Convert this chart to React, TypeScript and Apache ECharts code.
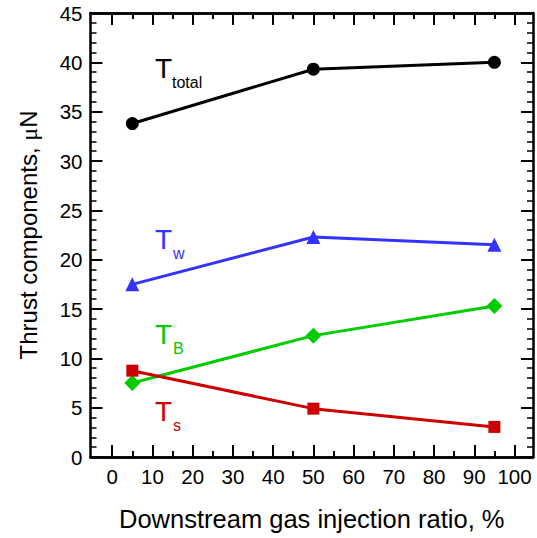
import React, { useEffect, useRef } from "react";
import * as echarts from "echarts";

const xValues = [5, 50, 95];
const tTotal = [33.8, 39.3, 40.0];
const tW = [17.5, 22.3, 21.5];
const tB = [7.5, 12.3, 15.3];
const tS = [8.75, 4.9, 3.05];
const xMajorTicks = [0, 10, 20, 30, 40, 50, 60, 70, 80, 90, 100];
const xMinorTicks = [5, 15, 25, 35, 45, 55, 65, 75, 85, 95];

const FONT = "Liberation Sans, Arial, sans-serif";

export default function App() {
  const ref = useRef<HTMLDivElement>(null);
  useEffect(() => {
    if (!ref.current) return;
    const chart = echarts.init(ref.current, null, { renderer: "svg" });
    const xMin = -5.4;
    const xMax = 104.6;
    const axisLine = { show: true, onZero: false, lineStyle: { color: "#000", width: 2.5 } };
    const mkX = (pos: string, ticks: number[], len: number, labels: boolean, name?: string) => ({
      type: "value",
      position: pos,
      min: xMin,
      max: xMax,
      axisLine,
      splitLine: { show: false },
      axisTick: {
        show: true,
        inside: true,
        length: len,
        customValues: ticks,
        lineStyle: { color: "#000", width: 2 },
      },
      axisLabel: labels
        ? { show: true, customValues: ticks, color: "#000", fontSize: 20.5, fontFamily: FONT, margin: 9 }
        : { show: false },
      name: name,
      nameLocation: "middle",
      nameGap: 49,
      nameTextStyle: { color: "#000", fontSize: 25.5, fontFamily: FONT },
    });
    const mkY = (pos: string, labels: boolean, name?: string) => ({
      type: "value",
      position: pos,
      min: 0,
      max: 45,
      interval: 5,
      axisLine,
      splitLine: { show: false },
      axisTick: { show: true, inside: true, length: 12, lineStyle: { color: "#000", width: 2 } },
      minorTick: { show: true, splitNumber: 5, length: 6, lineStyle: { color: "#000", width: 1.5 } },
      minorSplitLine: { show: false },
      axisLabel: labels
        ? { show: true, color: "#000", fontSize: 20.5, fontFamily: FONT, margin: 8 }
        : { show: false },
      name: name,
      nameLocation: "middle",
      nameGap: 50,
      nameTextStyle: {
        color: "#000",
        fontSize: 24,
        fontFamily: FONT,
        rich: { mu: { fontFamily: "Liberation Serif, Times New Roman, serif", fontSize: 24, color: "#000" } },
      },
    });
    const line = (data: number[], color: string, symbol: string, size: number) => ({
      type: "line",
      xAxisIndex: 0,
      yAxisIndex: 0,
      data: xValues.map((x, i) => [x, data[i]]),
      symbol,
      symbolSize: size,
      showAllSymbol: true,
      lineStyle: { color, width: 3 },
      itemStyle: { color, borderWidth: 0 },
    });
    const lab = (x: number, y: number, sub: string, color: string, subDx: number) => ({
      type: "group",
      children: [
        {
          type: "text",
          x,
          y,
          style: { text: "T", fill: color, font: `28px ${FONT}`, verticalAlign: "bottom" },
        },
        {
          type: "text",
          x: x + subDx,
          y: y + 8,
          style: { text: sub, fill: color, font: `16px ${FONT}`, verticalAlign: "bottom" },
        },
      ],
    });
    chart.setOption({
      animation: false,
      backgroundColor: "#fff",
      grid: { left: 90.5, right: 4, top: 13, bottom: 81, containLabel: false },
      xAxis: [
        mkX("bottom", xMajorTicks, 12, true, "Downstream gas injection ratio, %"),
        mkX("bottom", xMinorTicks, 6, false),
        mkX("top", xMajorTicks, 12, false),
        mkX("top", xMinorTicks, 6, false),
      ],
      yAxis: [mkY("left", true, "Thrust components, {mu|μ}N"), mkY("right", false)],
      series: [
        line(tTotal, "#000000", "circle", 13),
        line(tW, "#3333ff", "triangle", 14),
        line(tB, "#00cc00", "diamond", 16),
        line(tS, "#cc0000", "rect", 12),
      ],
      graphic: [
        lab(155, 82, "total", "#000000", 17),
        lab(155, 253, "w", "#3333ff", 18),
        lab(155, 348, "B", "#00cc00", 18),
        lab(155, 425, "s", "#cc0000", 18),
      ],
    });
    return () => chart.dispose();
  }, []);
  return (
    <div
      ref={ref}
      style={{ position: "absolute", left: 0, top: 0, width: 537, height: 538 }}
    />
  );
}
